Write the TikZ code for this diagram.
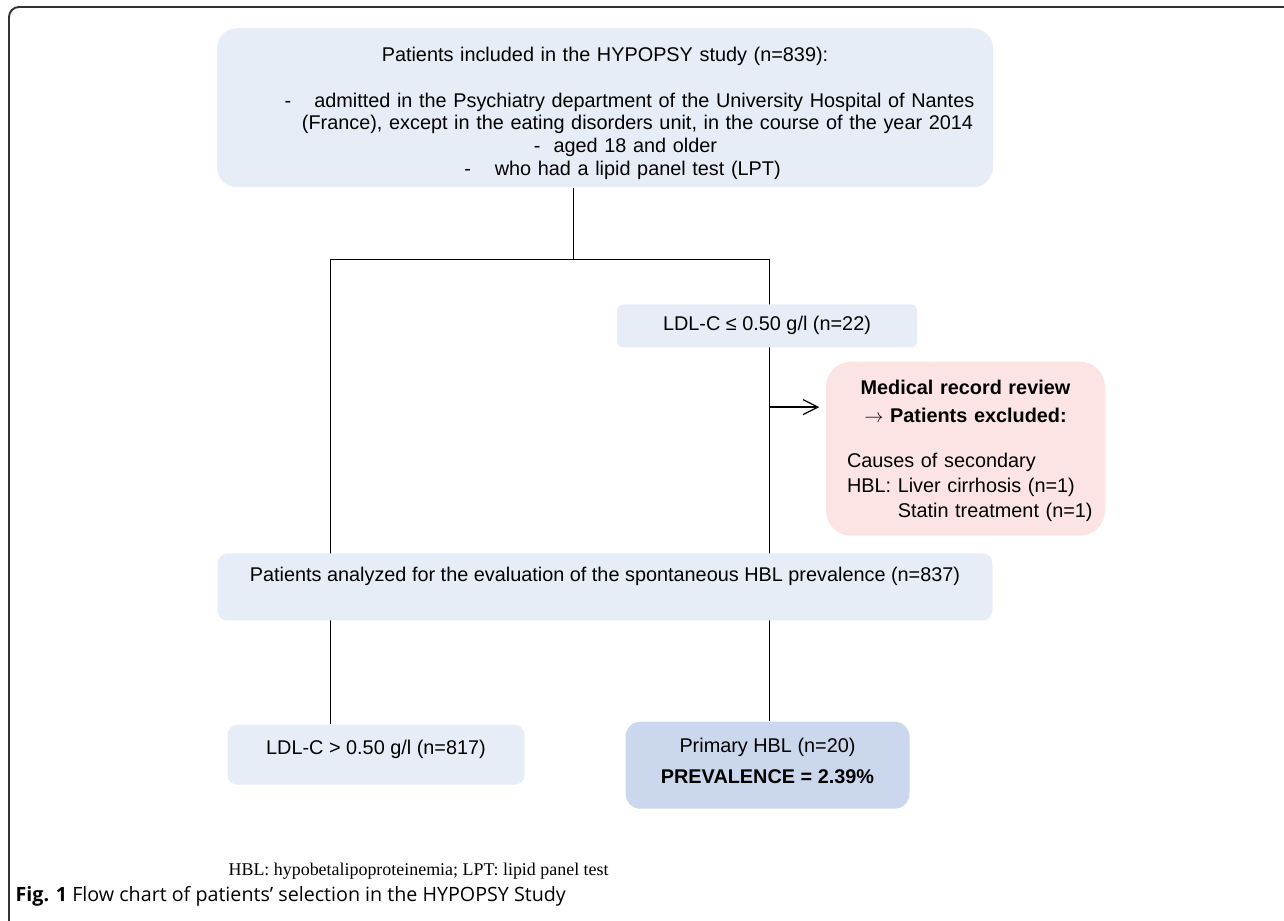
\documentclass[tikz,border=0pt]{standalone}
\usepackage{fontspec}
\setmainfont{Liberation Sans}
\newfontfamily\notefont{Liberation Serif}
\newfontfamily\capfont{Open Sans}
\usetikzlibrary{positioning, arrows.meta, backgrounds}
\definecolor{boxblue}{RGB}{231,237,247}
\definecolor{boxdark}{RGB}{203,215,236}
\definecolor{boxpink}{RGB}{253,228,228}

\begin{document}
\begin{tikzpicture}[
        every node/.style={inner sep=0pt, align=center, font=\fontsize{11.3}{13}\selectfont},
        flowbox/.style={fill=boxblue, rounded corners=0.2cm},
        >={Straight Barb[length=0.3cm, width=0.3cm]},
        line width=0.7pt
    ]
    \useasboundingbox (0,0) rectangle (25.68,-18.42);

    \node (incl) at (12.10,-2.155) [flowbox, rounded corners=0.4cm, minimum width=15.52cm, text width=15.52cm, text height=0.66cm, text depth=2.52cm] {Patients included in the HYPOPSY study (n=839):\\[0.46cm]
        \hspace*{0.98cm}-\hspace{0.46cm}admitted in the Psychiatry department of the University Hospital of Nantes\\
        \hspace*{1.30cm}(France), except in the eating disorders unit, in the course of the year 2014\\
        \hspace*{0.82cm}-\hspace{0.26cm}aged 18 and older\\
        \hspace*{0.70cm}-\hspace{0.48cm}who had a lipid panel test (LPT)};
    \node (lowchol) [flowbox, rounded corners=0.12cm, below=2.32cm of incl, xshift=3.24cm, minimum width=6cm, text height=0.52cm, text depth=0.34cm] {LDL-C ≤ 0.50 g/l (n=22)};
    \node (excl) [fill=boxpink, rounded corners=0.5cm, below=0.26cm of lowchol, xshift=3.97cm, minimum width=5.58cm, text width=4.74cm, text height=0.66cm, text depth=2.82cm, font=\fontsize{11.3}{14.2}\selectfont] {\textbf{Medical record review}\\[0.06cm]
        \textbf{$\rightarrow$ Patients excluded:}\\[0.4cm]
        \makebox[4.74cm][l]{Causes of secondary}\\
        \makebox[4.74cm][l]{HBL: Liver cirrhosis (n=1)}\\
        \makebox[4.74cm][l]{\phantom{HBL: }Statin treatment (n=1)}};
    \node (anal) [flowbox, below=7.30cm of incl, minimum width=15.5cm, text height=0.56cm, text depth=0.78cm] {Patients analyzed for the evaluation of the spontaneous HBL prevalence (n=837)};
    \node (norm) [flowbox, below=2.06cm of anal, xshift=-4.58cm, minimum width=5.94cm, text height=0.6cm, text depth=0.6cm] {LDL-C > 0.50 g/l (n=817)};
    \node (prim) [fill=boxdark, rounded corners=0.3cm, below=2.00cm of anal, xshift=3.25cm, minimum width=5.68cm, text height=1.24cm, text depth=0.5cm, font=\fontsize{11.3}{17.6}\selectfont] {Primary HBL (n=20)\\ \textbf{PREVALENCE = 2.39\%}};

    \node (note) [anchor=base west, font=\notefont\fontsize{10.2}{12}\selectfont] at (4.56,-17.50) {HBL: hypobetalipoproteinemia; LPT: lipid panel test};
    \node (cap) [anchor=base west, font=\capfont\fontsize{11.2}{13}\selectfont] at (0.30,-18.02) {\textbf{Fig. 1} Flow chart of patients’ selection in the HYPOPSY Study};

    \coordinate (stem) at ([xshift=-0.64cm]incl.south);
    \coordinate (split) at ([yshift=-1.42cm]stem);
    \coordinate (forkL) at ([xshift=-4.86cm]split);
    \coordinate (forkR) at ([xshift=3.92cm]split);
    \coordinate (side) at ([yshift=-0.92cm]excl.north west);

    \begin{scope}[on background layer]
    \draw (stem) -- (split);
    \draw (forkL) -- (forkR);
    \draw (forkL) -- (forkL |- norm.north);
    \draw (forkR) -- (forkR |- prim.north);
    \end{scope}
    \draw[->, shorten >=0.12cm] (forkR |- side) -- (side);

    \draw[line width=1.1pt, draw=black!80, rounded corners=0.2cm] (0.18,-18.42) -- (0.18,-0.14) -- (25.68,-0.14);

    \end{tikzpicture}
\end{document}
